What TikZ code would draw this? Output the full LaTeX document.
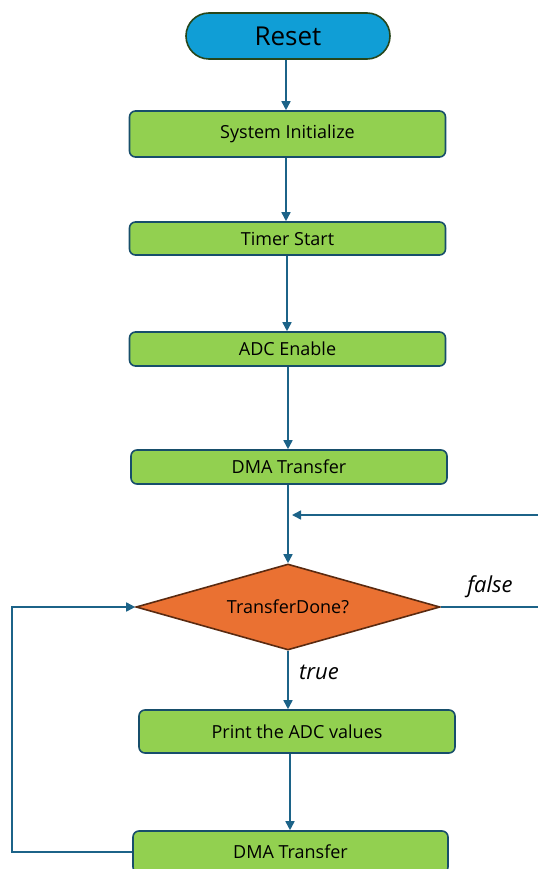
\documentclass[tikz,border=0pt]{standalone}
\usepackage{fontspec}
\setmainfont{Open Sans}
\usetikzlibrary{shapes.geometric,arrows.meta}
\definecolor{boxfill}{HTML}{92D050}
\definecolor{boxline}{HTML}{174E6B}
\definecolor{arrcol}{HTML}{1C6388}
\definecolor{resetfill}{HTML}{109ED6}
\definecolor{resetline}{HTML}{27461A}
\definecolor{decfill}{HTML}{EA7132}
\definecolor{decline}{HTML}{5A2A10}
\tikzset{
  stepbox/.style={draw=boxline, fill=boxfill, line width=1.6pt, rounded corners=6pt,
    minimum width=316pt, inner sep=0pt, font=\fontsize{18}{20}\selectfont},
  startbox/.style={draw=resetline, fill=resetfill, line width=1.6pt, rounded corners=23pt,
    minimum width=204pt, minimum height=46pt, inner sep=0pt, font=\fontsize{26}{28}\selectfont},
  decbox/.style={diamond, draw=decline, fill=decfill, line width=1.6pt, aspect=3.53,
    minimum width=304pt, minimum height=86pt, inner sep=0pt, font=\fontsize{18}{20}\selectfont},
  arr/.style={draw=arrcol, line width=1.6pt, -{Triangle[length=9pt,width=9pt]}},
  ln/.style={draw=arrcol, line width=1.6pt},
  lbl/.style={font=\fontsize{22}{24}\selectfont\itshape}
}
\begin{document}
\begin{tikzpicture}[x=1pt,y=-1pt]
\useasboundingbox (0,0) rectangle (538,869);
\node[startbox] (reset) at (288,36) {Reset};
\node[stepbox, minimum height=46pt] (sys) at (287.5,134) {System Initialize};
\node[stepbox, minimum height=33pt] (timer) at (287.5,238.5) {Timer Start};
\node[stepbox, minimum height=34pt] (adc) at (287.5,349) {ADC Enable};
\node[stepbox, minimum height=34pt] (dma1) at (289,467) {DMA Transfer};
\node[decbox] (dec) at (288,607) {TransferDone?};
\node[stepbox, minimum height=43pt] (print) at (297,731.5) {Print the ADC values};
\node[stepbox, minimum height=42pt, minimum width=315pt] (dma2) at (290.5,852) {DMA Transfer};
\coordinate (inR) at (538,515);
\coordinate (inL) at (292,515);
\coordinate (outR) at (538,607);
\coordinate (loopB) at (12,852);
\coordinate (loopT) at (12,607);
\draw[arr] (reset.south -| 286,0) -- (sys.north -| 286,0);
\draw[arr] (sys.south -| 286,0) -- (timer.north -| 286,0);
\draw[arr] (timer.south -| 287,0) -- (adc.north -| 287,0);
\draw[arr] (adc.south -| 288,0) -- (dma1.north -| 288,0);
\draw[arr] (dma1.south -| dec.north) -- (dec.north);
\draw[arr] (inR) -- (inL);
\draw[ln] (dec.east) -- (outR);
\draw[arr] (dec.south) -- (print.north -| dec.south);
\draw[arr] (print.south -| 290,0) -- (dma2.north -| 290,0);
\draw[arr] (dma2.west) -- (loopB) -- (loopT) -- (dec.west);
\node[lbl] (false) at (490,587) {false};
\node[lbl] (true) at (319,672) {true};
\end{tikzpicture}
\end{document}
